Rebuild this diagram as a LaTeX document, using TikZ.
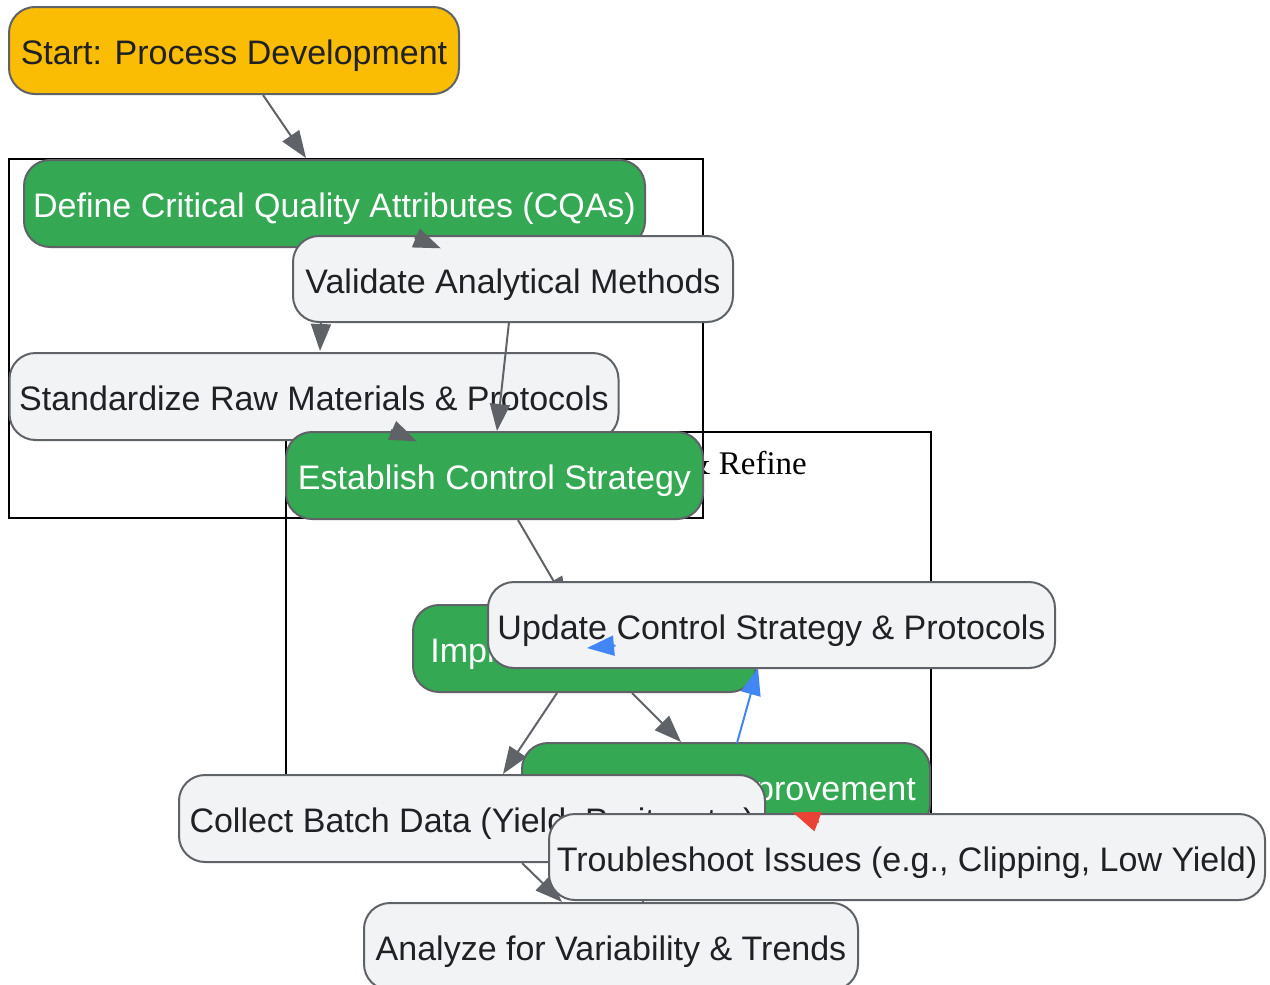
\documentclass[tikz,border=0pt]{standalone}
\usepackage{fontspec}
\setmainfont{Liberation Sans}
\newfontfamily\lblfont{Liberation Serif}
\usetikzlibrary{arrows.meta}
\definecolor{ylw}{HTML}{FBBC04}
\definecolor{grn}{HTML}{34A853}
\definecolor{lgr}{HTML}{F1F3F4}
\definecolor{bdr}{HTML}{5F6368}
\definecolor{txt}{HTML}{202124}
\definecolor{blu}{HTML}{4285F4}
\definecolor{redc}{HTML}{EA4335}
\tikzset{
  box/.style={draw=bdr, line width=2pt, rounded corners=26pt, inner sep=0pt,
    minimum height=87pt, text height=28pt, text depth=0pt,
    font=\fontsize{34}{40}\selectfont, text=txt},
  startbox/.style={box, fill=ylw},
  greenbox/.style={box, fill=grn, text=white},
  graybox/.style={box, fill=lgr},
  cluster/.style={draw=black, line width=2pt, inner sep=0pt},
  conn/.style={draw=bdr, fill=bdr, line width=2pt, -{Triangle[length=27pt,width=20pt]}},
  blueconn/.style={conn, draw=blu, fill=blu},
  redconn/.style={conn, draw=redc, fill=redc},
}
\begin{document}
\begin{tikzpicture}[x=1pt,y=-1pt]
\useasboundingbox (0,0) rectangle (1270,985);
\clip (0,0) rectangle (1270,985);
% clusters
\node[cluster, minimum width=694pt, minimum height=359pt] (c1) at (356,338.5) {};
\node[cluster, minimum width=645pt, minimum height=383pt] (c2) at (608.5,623.5) {};
\node[anchor=base east, inner sep=0pt, font=\lblfont\fontsize{33}{38}\selectfont] (c2lbl) at (807,474) {Monitor \& Refine};
% coordinates for connector ends
\coordinate (a1s) at (263,95);   \coordinate (a1e) at (306,158);
\coordinate (a2s) at (414.7,237.5); \coordinate (a2e) at (440.7,248.3);
\coordinate (a3s) at (321,323);  \coordinate (a3e) at (320,351);
\coordinate (a4s) at (509,322);  \coordinate (a4e) at (497,431);
\coordinate (a5s) at (391.2,430); \coordinate (a5e) at (416.7,441.3);
\coordinate (a6s) at (518,520);  \coordinate (a6e) at (567,604);
\coordinate (a7s) at (615.5,645.5); \coordinate (a7e) at (587,648);
\coordinate (a8s) at (557,693);  \coordinate (a8e) at (503,774);
\coordinate (a9s) at (632,693);  \coordinate (a9e) at (681,742);
\coordinate (a10s) at (737,743); \coordinate (a10e) at (758,668);
\coordinate (a11s) at (818.8,822); \coordinate (a11e) at (792.7,812.3);
\coordinate (a12s) at (522,863); \coordinate (a12e) at (562,902);
\coordinate (a13s) at (643,899); \coordinate (a13e) at (643,904);
% nodes and connectors, in drawing order
\node[startbox, minimum width=450pt] (start) at (234,50.5) {Start: Process Development};
\node[greenbox, minimum width=621pt] (define) at (334.5,203.5) {Define Critical Quality Attributes (CQAs)};
\draw[conn] (a1s) -- (a1e);
\node[graybox, minimum width=440pt, minimum height=86pt] (validate) at (513,279) {Validate Analytical Methods};
\draw[conn] (a2s) -- (a2e);
\node[graybox, minimum width=609pt] (standardize) at (314,396.5) {Standardize Raw Materials \& Protocols};
\draw[conn] (a3s) -- (a3e);
\draw[conn] (a4s) -- (a4e);
\node[greenbox, minimum width=417pt] (establish) at (494.5,475.5) {Establish Control Strategy};
\draw[conn] (a5s) -- (a5e);
\draw[conn] (a6s) -- (a6e);
\node[greenbox, minimum width=343pt] (implement) at (584.5,648.5) {Implement Changes\hspace*{4pt}};
\node[graybox, minimum width=567pt, minimum height=86pt] (update) at (771.5,625) {Update Control Strategy \& Protocols};
\draw[blueconn] (a7s) -- (a7e);
\node[greenbox, minimum width=408pt] (continuous) at (726,786.5) {Continuous Improvement};
\draw[conn] (a8s) -- (a8e);
\draw[conn] (a9s) -- (a9e);
\draw[blueconn] (a10s) -- (a10e);
\node[graybox, minimum width=586pt] (collect) at (472,818.5) {Collect Batch Data (Yield, Purity, etc.)};
\node[graybox, minimum width=494pt] (analyze) at (611,946.5) {Analyze for Variability \& Trends};
\draw[conn] (a12s) -- (a12e);
\node[graybox, minimum width=716pt, minimum height=86pt] (troubleshoot) at (907,857) {Troubleshoot Issues (e.g., Clipping, Low Yield)};
\draw[redconn] (a11s) -- (a11e);
\draw[draw=bdr, line width=2pt] (a13s) -- (a13e);
\end{tikzpicture}
\end{document}
